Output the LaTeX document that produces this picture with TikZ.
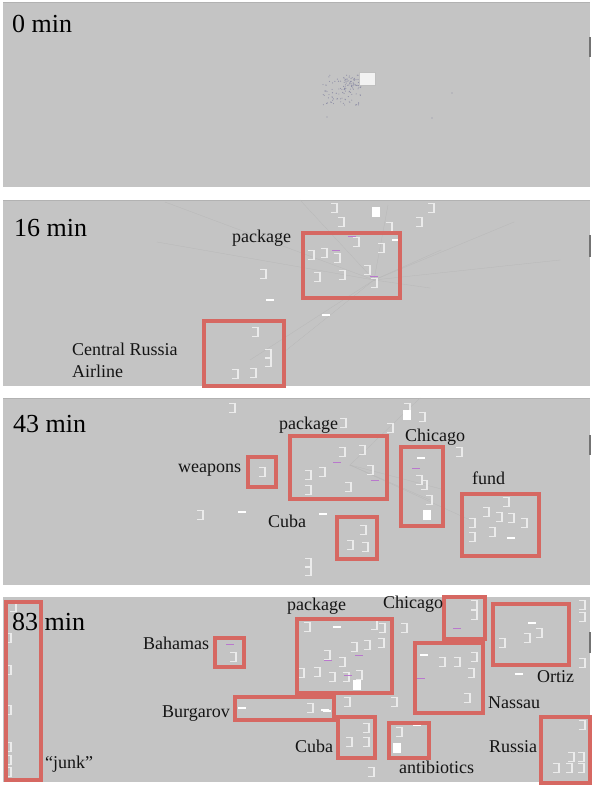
\documentclass[tikz,border=0pt]{standalone}
\usepackage{fontspec}
\setmainfont{Liberation Serif}
\definecolor{panelgray}{RGB}{196,196,196}
\definecolor{boxred}{RGB}{214,104,98}
\definecolor{markpurple}{RGB}{185,120,205}
\definecolor{dotcol}{RGB}{140,140,165}
\begin{document}
\begin{tikzpicture}[x=1pt,y=-1pt,
  redbox/.style={draw=boxred, line width=3.8pt, line join=miter},
  title/.style={anchor=base west, font=\fontsize{26}{28}\selectfont, inner sep=0pt, text=black},
  lbl/.style={anchor=base west, font=\fontsize{18}{20}\selectfont, inner sep=0pt, text=black!92},
  thumb/.style={draw=black!55, line width=2pt},
  edge/.style={draw=black!28, line width=0.3pt},
  docmk/.pic={\draw[white!92!black, line width=1.4pt] (-3,-4.5) -- (3,-4.5) -- (3,4.5) -- (-3,4.5);},
  dashmk/.pic={\fill[white] (-4,-1.2) rectangle (4,1.2);},
  fullmk/.pic={\fill[white] (-4,-5) rectangle (4,5);},
  purmk/.pic={\draw[markpurple, line width=1pt] (-4,0) -- (4,0);},
]
\useasboundingbox (0,0) rectangle (594,787);
\fill[white] (0,0) rectangle (594,787);
% panels
\fill[panelgray] (3,2) rectangle (590,187);
\fill[panelgray] (3,200) rectangle (590,386);
\fill[panelgray] (3,398) rectangle (590,585);
\fill[panelgray] (3,597) rectangle (590,782);
\draw[black!30, line width=0.6pt] (3,2.3) -- (590,2.3);
\draw[black!30, line width=0.6pt] (3,200.3) -- (590,200.3);
\draw[black!30, line width=0.6pt] (3,398.3) -- (590,398.3);
% scroll thumbs
\draw[thumb] (589.5,37) -- (589.5,57);
\draw[thumb] (589.5,235) -- (589.5,257);
\draw[thumb] (589.5,435) -- (589.5,455);
\draw[thumb] (589.5,632) -- (589.5,653);

% ---------- panel 1 ----------
\pgfmathsetseed{7}
\foreach \i in {1,...,90}{
  \fill[dotcol] ({342+20*rand},{90+15*rand}) circle (0.55);
}
\foreach \i in {1,...,40}{
  \fill[dotcol] ({352+9*rand},{84+6*rand}) circle (0.55);
}
\foreach \p in {(452,93),(432,118),(327,117)} \fill[dotcol] \p circle (0.7);
\fill[white!95!black] (359,72) rectangle (375,85);
\draw[black!25, line width=0.4pt] (359,72) rectangle (375,85);
\node[title] (t0) at (12,32) {0 min};

% ---------- panel 2 ----------
\coordinate (hub2) at (374,280);
\foreach \e in {(514,222),(441,250),(430,288),(165,202),(157,242),(300,200),(250,360),(284,352),(388,205),(560,260)}
  \draw[edge] (hub2) -- \e;
\foreach \p in {(334,208),(431,208),(341,222),(389,227),(419,222),(311,255),(324,253),(337,258),(356,242),(381,248),(317,277),(342,275),(367,270),(374,283),(263,274),(255,332),(235,374),(253,373)}
  \pic at \p {docmk};
\pic at (268,354) {docmk};
\pic at (268,362) {docmk};
\pic at (376,212) {fullmk};
\foreach \p in {(270,300),(326,315),(396,240)} \pic at \p {dashmk};
\foreach \p in {(352,236),(336,250),(374,276)} \pic at \p {purmk};
\draw[redbox] (303,233) rectangle (400,298);
\draw[redbox] (204,321) rectangle (284,386);
\node[title] (t16) at (14,236) {16 min};
\node[lbl] (pk16) at (232,242) {package};
\node[lbl] (cr16) at (72,355) {Central Russia};
\node[lbl] (al16) at (72,377) {Airline};

% ---------- panel 3 ----------
\coordinate (hub3) at (350,465);
\foreach \e in {(470,520),(430,500),(445,490),(420,398)}
  \draw[edge] (hub3) -- \e;
\foreach \p in {(232,408),(407,408),(422,417),(390,428),(343,423),(262,472),(362,450),(342,452),(322,472),(308,475),(308,490),(348,487),(370,470),(200,515),(308,563),(308,571),(363,530),(350,545),(365,547),(419,480),(424,485),(429,500),(459,452),(506,502),(486,512),(499,517),(511,518),(524,523),(472,523),(492,532),(472,537)}
  \pic at \p {docmk};
\pic at (407,415) {fullmk};
\pic at (427,515) {fullmk};
\foreach \p in {(242,512),(323,514),(421,458),(511,538)} \pic at \p {dashmk};
\foreach \p in {(337,462),(416,468),(375,480)} \pic at \p {purmk};
\draw[redbox] (248,457) rectangle (276,487);
\draw[redbox] (290,436) rectangle (387,499);
\draw[redbox] (401,447) rectangle (443,526);
\draw[redbox] (337,517) rectangle (377,559);
\draw[redbox] (462,494) rectangle (539,556);
\node[title] (t43) at (13,432) {43 min};
\node[lbl] (pk43) at (279,429) {package};
\node[lbl] (wp43) at (178,472) {weapons};
\node[lbl] (cu43) at (268,527) {Cuba};
\node[lbl] (ch43) at (405,441) {Chicago};
\node[lbl] (fd43) at (472,484) {fund};

% ---------- panel 4 ----------
\foreach \p in {(8,638),(8,670),(8,710),(8,747),(8,760),(8,772),(13,607),(233,657),(310,708),(307,627),(374,625),(382,628),(404,628),(354,647),(367,645),(381,643),(327,655),(342,662),(301,673),(317,672),(332,677),(346,677),(359,675),(474,605),(474,615),(442,662),(457,662),(474,657),(471,673),(467,698),(502,643),(527,638),(539,633),(582,605),(582,617),(582,663),(366,728),(349,742),(366,742),(399,732),(582,725),(571,757),(581,757),(556,768),(569,768),(581,768),(371,772),(394,702),(347,702)}
  \pic at \p {docmk};
\pic at (357,685) {fullmk};
\pic at (397,748) {fullmk};
\foreach \p in {(242,708),(325,710),(337,627),(424,655),(532,623),(519,674),(417,725),(327,711)} \pic at \p {dashmk};
\foreach \p in {(230,644),(359,655),(457,628),(421,678),(328,660),(348,675)} \pic at \p {purmk};
\draw[redbox] (6,602) rectangle (41,780);
\draw[redbox] (215,638) rectangle (244,667);
\draw[redbox] (235,697) rectangle (334,720);
\draw[redbox] (297,619) rectangle (392,693);
\draw[redbox] (444,597) rectangle (485,639);
\draw[redbox] (415,643) rectangle (483,713);
\draw[redbox] (493,604) rectangle (569,665);
\draw[redbox] (338,717) rectangle (375,758);
\draw[redbox] (389,723) rectangle (429,758);
\draw[redbox] (541,717) rectangle (590,783);
\node[title] (t83) at (12,630) {83 min};
\node[lbl] (bh83) at (143,649) {Bahamas};
\node[lbl] (bg83) at (162,717) {Burgarov};
\node[lbl] (jk83) at (45,768) {“junk”};
\node[lbl] (pk83) at (287,610) {package};
\node[lbl] (ch83) at (383,608) {Chicago};
\node[lbl] (or83) at (537,682) {Ortiz};
\node[lbl] (ns83) at (488,708) {Nassau};
\node[lbl] (cu83) at (295,752) {Cuba};
\node[lbl] (ab83) at (399,773) {antibiotics};
\node[lbl] (ru83) at (489,752) {Russia};
\end{tikzpicture}
\end{document}
